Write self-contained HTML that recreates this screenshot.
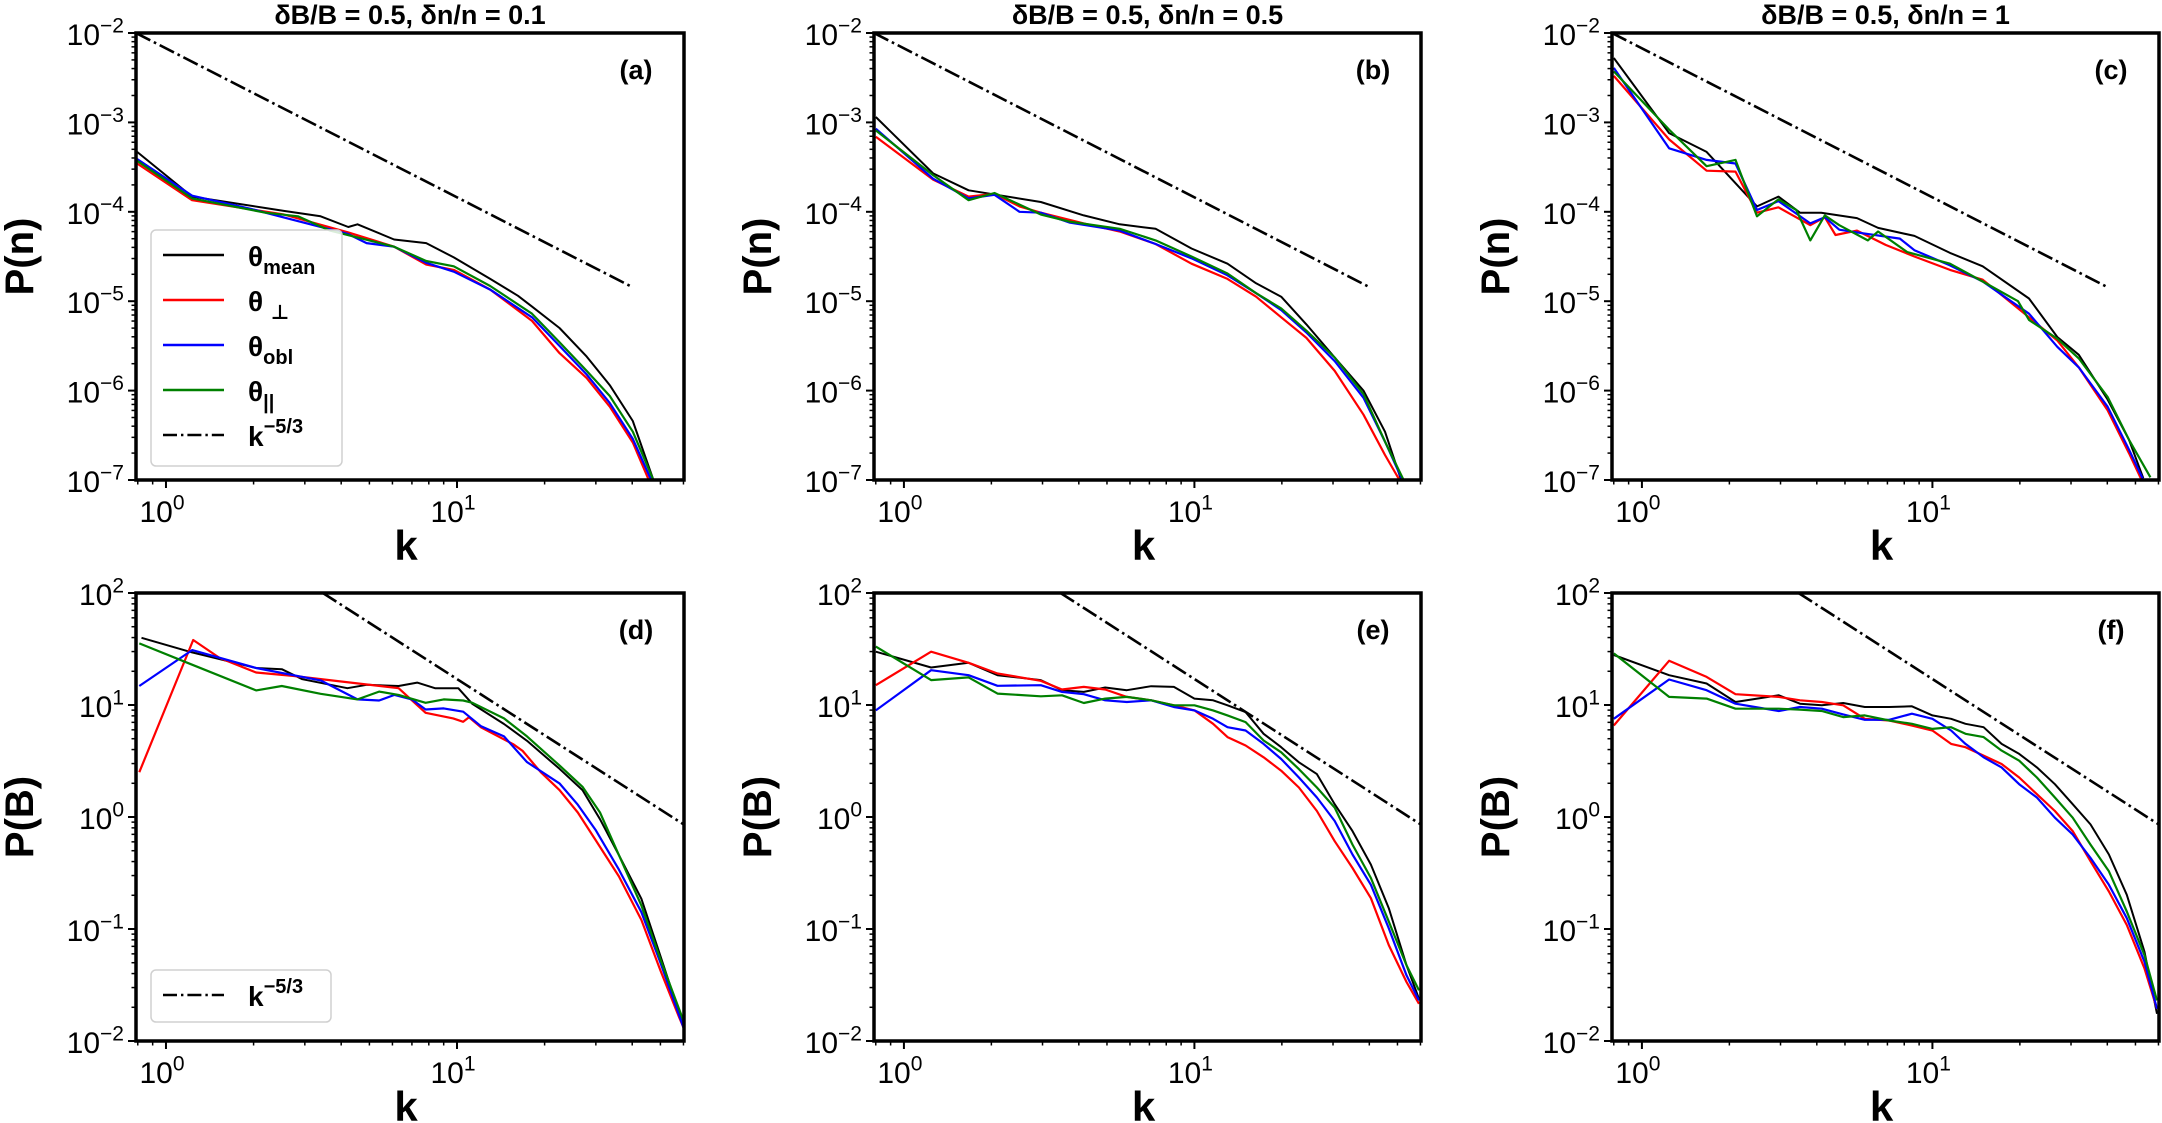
<!DOCTYPE html>
<html><head><meta charset="utf-8">
<style>
html,body{margin:0;padding:0;background:#fff;}
svg{display:block;font-family:"Liberation Sans","DejaVu Sans",sans-serif;}
</style></head>
<body>
<svg id="fig" width="2162" height="1123" viewBox="0 0 2162 1123" xmlns="http://www.w3.org/2000/svg"></svg>
<script>
// ---------- data (log10 P vs k) ----------
const aMeanK=[0.796,1.23,2.54,3.4,4.23,4.55,6.08,7.84,9.75,13.0,16.2,18.1,22.5,27.9,33.5,40.2,47.3];
const aMeanP=[-3.33,-3.83,-3.99,-4.05,-4.17,-4.14,-4.31,-4.35,-4.51,-4.75,-4.94,-5.06,-5.30,-5.62,-5.94,-6.34,-7.0];
const aPerpK=[0.796,1.23,2.54,4.23,6.08,7.84,9.75,13.0,18.1,22.5,27.9,33.5,40.2,45.6];
const aPerpP=[-3.46,-3.87,-4.03,-4.23,-4.39,-4.59,-4.65,-4.87,-5.22,-5.58,-5.86,-6.18,-6.58,-7.0];
const aOblK=[0.796,1.23,1.97,2.73,4.23,4.89,6.08,7.84,9.75,13.0,18.1,22.5,27.9,33.5,40.2,46.5];
const aOblP=[-3.41,-3.82,-3.97,-4.09,-4.25,-4.35,-4.39,-4.57,-4.67,-4.87,-5.18,-5.50,-5.82,-6.14,-6.54,-7.0];
const aParK=[0.796,1.23,2.2,2.84,3.66,6.08,7.84,9.75,13.0,18.1,22.5,27.9,33.5,40.2,47.3];
const aParP=[-3.43,-3.85,-4.01,-4.05,-4.21,-4.39,-4.55,-4.61,-4.83,-5.14,-5.46,-5.78,-6.06,-6.46,-7.0];

const bMeanK=[0.80,1.26,1.67,2.96,4.16,5.53,7.35,9.77,13.0,16.3,19.9,24.3,30.4,38.2,45.3,51.5];
const bMeanP=[-2.94,-3.57,-3.76,-3.89,-4.04,-4.14,-4.19,-4.41,-4.58,-4.80,-4.95,-5.26,-5.63,-6.0,-6.46,-7.0];
const bPerpK=[0.80,1.26,1.67,2.05,2.5,2.96,4.16,5.53,7.35,9.77,13.0,16.3,19.9,24.3,30.4,38.2,45.3,50.8];
const bPerpP=[-3.16,-3.64,-3.83,-3.80,-3.94,-4.01,-4.13,-4.22,-4.36,-4.58,-4.75,-4.95,-5.18,-5.41,-5.78,-6.27,-6.72,-7.0];
const bOblK=[0.80,1.26,1.67,2.05,2.5,2.96,3.71,5.53,7.35,9.77,13.0,16.3,19.9,24.3,30.4,38.2,45.3,52];
const bOblP=[-3.07,-3.63,-3.85,-3.81,-4.0,-4.01,-4.12,-4.21,-4.36,-4.52,-4.71,-4.91,-5.10,-5.35,-5.67,-6.08,-6.57,-7.0];
const bParK=[0.80,1.26,1.67,2.05,2.96,3.71,5.53,7.35,9.77,13.0,16.3,19.9,24.3,30.4,38.2,45.3,52.5];
const bParP=[-3.09,-3.59,-3.87,-3.79,-4.03,-4.11,-4.19,-4.32,-4.50,-4.69,-4.91,-5.08,-5.33,-5.63,-6.04,-6.57,-7.0];

const cMeanK=[0.80,1.24,1.67,2.49,2.95,3.5,4.14,5.5,6.5,8.67,11.5,14.9,21.5,26.9,31.9,40.1,47.5,53.2];
const cMeanP=[-2.28,-3.12,-3.33,-3.94,-3.83,-4.01,-4.01,-4.07,-4.18,-4.27,-4.46,-4.61,-4.97,-5.40,-5.60,-6.10,-6.55,-6.98];
const cPerpK=[0.80,1.24,1.67,2.1,2.49,2.95,3.8,4.26,4.64,5.5,6.9,8.67,11.5,14.9,21.5,26.9,31.9,40.1,47.5,52.5];
const cPerpP=[-2.48,-3.19,-3.54,-3.55,-4.01,-3.95,-4.15,-4.06,-4.26,-4.21,-4.37,-4.50,-4.65,-4.76,-5.18,-5.44,-5.74,-6.22,-6.70,-7.0];
const cOblK=[0.80,1.24,1.67,2.1,2.49,2.95,3.8,4.26,4.78,5.5,7.73,8.67,11.5,14.9,21.5,26.9,31.9,40.1,47.5,53.2];
const cOblP=[-2.39,-3.29,-3.42,-3.46,-3.98,-3.88,-4.13,-4.06,-4.20,-4.23,-4.30,-4.43,-4.60,-4.78,-5.14,-5.51,-5.74,-6.18,-6.66,-7.0];
const cParK=[0.80,1.24,1.67,2.1,2.49,2.95,3.4,3.8,4.26,4.78,5.99,6.5,8.18,11.5,14.9,19.7,21.5,26.9,31.9,40.1,47.5,56.3];
const cParP=[-2.43,-3.08,-3.49,-3.42,-4.05,-3.86,-3.98,-4.32,-4.04,-4.15,-4.32,-4.22,-4.45,-4.58,-4.78,-5.00,-5.21,-5.42,-5.64,-6.07,-6.55,-6.97];

const dMeanK=[0.824,1.23,2.04,2.5,2.94,4.2,4.9,6.3,7.3,8.4,10.1,11.3,14.5,17.4,22.5,27,31,36,43,50,58,60];
const dMeanP=[1.60,1.47,1.33,1.32,1.23,1.15,1.18,1.17,1.20,1.15,1.15,1.01,0.83,0.68,0.43,0.24,-0.02,-0.34,-0.73,-1.24,-1.75,-1.88];
const dPerpK=[0.81,1.24,1.53,2.04,2.73,6.3,7.8,9.7,10.5,11.0,12.1,15.6,16.8,19.4,22.5,26,30,36,43,50,58,60];
const dPerpP=[0.40,1.58,1.42,1.29,1.26,1.15,0.93,0.88,0.85,0.89,0.80,0.65,0.59,0.40,0.24,0.04,-0.21,-0.53,-0.92,-1.37,-1.79,-1.88];
const dOblK=[0.81,1.23,2.04,3.4,4.55,5.4,6.1,7.0,7.8,9.0,10.5,12.1,14.5,17.4,22.5,26,30,36,43,50,60];
const dOblP=[1.17,1.49,1.33,1.22,1.05,1.04,1.09,1.05,0.96,0.97,0.94,0.81,0.72,0.49,0.30,0.11,-0.12,-0.47,-0.85,-1.30,-1.88];
const dParK=[0.81,1.23,2.04,2.5,3.4,4.55,5.4,6.3,7.8,9.0,10.5,11.3,14.5,17.4,22.5,27,31,36,43,50,60];
const dParP=[1.55,1.36,1.13,1.17,1.10,1.05,1.12,1.09,1.02,1.05,1.04,1.02,0.88,0.72,0.46,0.27,0.04,-0.34,-0.79,-1.27,-1.82];

const bottomK=[0.8,1.24,1.67,2.1,2.96,3.5,4.16,4.93,5.85,7.1,8.5,10,11.6,13,15,17.3,19.9,22.9,26.4,30.4,35,40.5,46.7,53.7,59.3];
const eMeanP=[1.476,1.335,1.377,1.266,1.222,1.132,1.117,1.156,1.132,1.168,1.162,1.057,1.042,0.997,0.937,0.743,0.623,0.488,0.383,0.114,-0.126,-0.425,-0.814,-1.323,-1.623];
const ePerpP=[1.177,1.476,1.377,1.281,1.216,1.138,1.162,1.138,1.072,1.042,0.997,0.952,0.832,0.713,0.638,0.533,0.413,0.263,0.054,-0.216,-0.455,-0.725,-1.144,-1.473,-1.668];
const eOblP=[0.952,1.311,1.266,1.171,1.177,1.117,1.096,1.042,1.027,1.042,0.982,0.952,0.877,0.802,0.772,0.653,0.518,0.353,0.174,-0.036,-0.335,-0.605,-0.994,-1.413,-1.638];
const eParP=[1.521,1.222,1.246,1.102,1.078,1.087,1.018,1.057,1.072,1.042,0.997,0.997,0.952,0.907,0.847,0.683,0.578,0.428,0.263,0.084,-0.246,-0.545,-0.934,-1.323,-1.548];
const fMeanP=[1.446,1.266,1.192,1.027,1.087,1.012,0.997,1.018,0.982,0.982,0.988,0.907,0.877,0.832,0.802,0.653,0.563,0.443,0.293,0.114,-0.066,-0.335,-0.695,-1.204,-1.757];
const fPerpP=[0.817,1.395,1.251,1.096,1.072,1.042,1.027,0.997,0.877,0.862,0.817,0.772,0.653,0.623,0.548,0.473,0.353,0.204,0.054,-0.126,-0.395,-0.665,-0.964,-1.353,-1.713];
const fOblP=[0.877,1.228,1.132,1.012,0.946,0.982,0.967,0.916,0.868,0.868,0.922,0.877,0.772,0.653,0.533,0.443,0.293,0.174,-0.006,-0.156,-0.365,-0.605,-0.904,-1.293,-1.713];
const fParP=[1.461,1.072,1.057,0.967,0.967,0.958,0.946,0.892,0.907,0.862,0.832,0.787,0.802,0.743,0.713,0.593,0.503,0.353,0.174,-0.006,-0.246,-0.485,-0.844,-1.234,-1.638];

const topTicks=[-7,-6,-5,-4,-3,-2];
const bottomTicks=[-2,-1,0,1,2];
const xTicks=[0,1];
const titles=["\u03b4B/B = 0.5,  \u03b4n/n = 0.1","\u03b4B/B = 0.5,  \u03b4n/n = 0.5","\u03b4B/B = 0.5,  \u03b4n/n = 1"];
const panelLetters=["(a)","(b)","(c)","(d)","(e)","(f)"];
// reference power law k^-5/3 anchors: [k, P, kEnd]
const plawTop=[0.789,0.01,40];
const plawBottom=[3.46,100,60.3];

// ---------- layout ----------
const NS="http://www.w3.org/2000/svg";
const svg=document.getElementById('fig');
const cols=[[136,684],[874,1421],[1612,2159]];
const rows=[[33,480],[593,1041]];
const XMIN=-0.103, XMAX=1.78;
const COLORS={mean:'#000000',perp:'#ff0000',obl:'#0000ff',par:'#008000'};
function mk(tag,attrs,parent){const e=document.createElementNS(NS,tag);for(const k in attrs)e.setAttribute(k,attrs[k]);(parent||svg).appendChild(e);return e;}

const defs=mk('defs',{});
function xScale(c){const [a,b]=cols[c];return k=>a+(Math.log10(k)-XMIN)/(XMAX-XMIN)*(b-a);}
function yScale(r){const [t,bt]=rows[r];const lo=r===0?-7:-2, hi=r===0?-2:2;return lp=>bt-(lp-lo)/(hi-lo)*(bt-t);}

function supText(parent,x,y,base,sup,anchor,size){
  const t=mk('text',{x:x,y:y,'font-size':size,'text-anchor':anchor,fill:'#000'},parent);
  const s1=mk('tspan',{},t);s1.textContent=base;
  const s2=mk('tspan',{dy:-size*0.42,'font-size':size*0.7},t);s2.textContent=sup;
  return t;
}

function drawPanel(idx,r,c,series){
  const g=mk('g',{});
  
  
  const [x0,x1]=cols[c],[y0,y1]=rows[r];
  const X=xScale(c),Y=yScale(r);
  const clipId='clip'+idx;
  const cp=mk('clipPath',{id:clipId},defs);mk('rect',{x:x0,y:y0,width:x1-x0,height:y1-y0},cp);
  for(let d=-1;d<=1;d++)for(let m=1;m<10;m++){
    const k=m*Math.pow(10,d);const lk=Math.log10(k);if(lk<XMIN||lk>XMAX)continue;
    const xx=X(k);const len=m===1?8:4.5;
    const tk=mk('line',{x1:xx,x2:xx,y1:y1,y2:y1+len,stroke:'#000','stroke-width':m===1?2:1.5},g);
    
    
  }
  xTicks.forEach(d=>{
    const lb=supText(g,X(Math.pow(10,d))-4,y1+42,'10',String(d),'middle',30);
    
    
  });
  const ticks=r===0?topTicks:bottomTicks;
  for(let d=ticks[0];d<ticks[ticks.length-1];d++)for(let m=2;m<10;m++){
    const yy=Y(d+Math.log10(m));
    const tk=mk('line',{x1:x0-4.5,x2:x0,y1:yy,y2:yy,stroke:'#000','stroke-width':1.5},g);
    
    
  }
  ticks.forEach(d=>{
    const yy=Y(d);
    const tk=mk('line',{x1:x0-8,x2:x0,y1:yy,y2:yy,stroke:'#000','stroke-width':2},g);
    
    
    const sup=d<0?'\u2212'+(-d):String(d);
    const lb=supText(g,x0-12,yy+12,'10',sup,'end',30);
    
    
  });
  const lg=mk('g',{'clip-path':'url(#'+clipId+')'},g);
  const pl=r===0?plawTop:plawBottom;
  const kA=pl[0],kB=pl[2];
  const plY=k=>Math.log10(pl[1])-5/3*Math.log10(k/kA);
  const ref=mk('line',{x1:X(kA),y1:Y(plY(kA)),x2:X(kB),y2:Y(plY(kB)),stroke:'#000','stroke-width':2.6,'stroke-dasharray':'16,4,2.6,4'},lg);
  
  
  series.forEach(s=>{
    const pts=s.k.map((k,i)=>X(k).toFixed(1)+','+Y(s.v[i]).toFixed(1)).join(' ');
    const pe=mk('polyline',{points:pts,fill:'none',stroke:COLORS[s.name],'stroke-width':s.name==='mean'?2:2.2,'stroke-linejoin':'round'},lg);
    
    
  });
  const fr=mk('rect',{x:x0,y:y0,width:x1-x0,height:y1-y0,fill:'none',stroke:'#000','stroke-width':3.5},g);
  
  
  const pl2=mk('text',{x:x1-48,y:y0+46,'font-size':27,'font-weight':'bold','text-anchor':'middle'},g);
  pl2.textContent=panelLetters[idx];
  
  
  const xl=mk('text',{x:(x0+x1)/2-4,y:y1+80,'font-size':42,'font-weight':'bold','text-anchor':'middle'},g);
  xl.textContent='k';
  
  
  const ycx=x0-103,ycy=(y0+y1)/2;
  const yl=mk('text',{x:ycx,y:ycy,'font-size':40,'font-weight':'bold','text-anchor':'middle',transform:'rotate(-90 '+ycx+' '+ycy+')'},g);
  yl.textContent=r===0?'P(n)':'P(B)';
  
  
  if(r===0){
    const tt=mk('text',{x:(x0+x1)/2,y:24,'font-size':27,'font-weight':'bold','text-anchor':'middle'},g);
    tt.textContent=titles[c];
    
    
  }
}

const S=(name,k,v)=>({name,k,v});
drawPanel(0,0,0,[S('mean',aMeanK,aMeanP),S('perp',aPerpK,aPerpP),S('obl',aOblK,aOblP),S('par',aParK,aParP)]);
drawPanel(1,0,1,[S('mean',bMeanK,bMeanP),S('perp',bPerpK,bPerpP),S('obl',bOblK,bOblP),S('par',bParK,bParP)]);
drawPanel(2,0,2,[S('mean',cMeanK,cMeanP),S('perp',cPerpK,cPerpP),S('obl',cOblK,cOblP),S('par',cParK,cParP)]);
drawPanel(3,1,0,[S('mean',dMeanK,dMeanP),S('perp',dPerpK,dPerpP),S('obl',dOblK,dOblP),S('par',dParK,dParP)]);
drawPanel(4,1,1,[S('mean',bottomK,eMeanP),S('perp',bottomK,ePerpP),S('obl',bottomK,eOblP),S('par',bottomK,eParP)]);
drawPanel(5,1,2,[S('mean',bottomK,fMeanP),S('perp',bottomK,fPerpP),S('obl',bottomK,fOblP),S('par',bottomK,fParP)]);

function legend(x,y,w,h,entries,name){
  const g=mk('g',{});
  
  
  mk('rect',{x:x,y:y,width:w,height:h,rx:5,fill:'#fff','fill-opacity':0.85,stroke:'#d0d0d0','stroke-width':1.5},g);
  entries.forEach((e,i)=>{
    const ey=y+25+i*45;
    const eg=mk('g',{},g);
    
    
    mk('line',{x1:x+12,x2:x+73,y1:ey,y2:ey,stroke:e.color,'stroke-width':2.4,'stroke-dasharray':e.dash?'14,4,2.4,4':'none'},eg);
    const t=mk('text',{x:x+97,y:ey+11,'font-size':28,'font-weight':'bold'},eg);
    const a=mk('tspan',{},t);a.textContent=e.base;
    const b=mk('tspan',{'font-size':20,dy:e.sup?-13:8},t);b.textContent=e.sub;
  });
}
legend(151,230,191,236,[
  {color:'#000',base:'\u03b8',sub:'mean'},
  {color:'#f00',base:'\u03b8 ',sub:'\u22a5'},
  {color:'#00f',base:'\u03b8',sub:'obl'},
  {color:'#008000',base:'\u03b8',sub:'||'},
  {color:'#000',base:'k',sub:'\u22125/3',sup:true,dash:true}
],'legend-top');
legend(151,970,180,52,[
  {color:'#000',base:'k',sub:'\u22125/3',sup:true,dash:true}
],'legend-bottom');
</script>
</body></html>
